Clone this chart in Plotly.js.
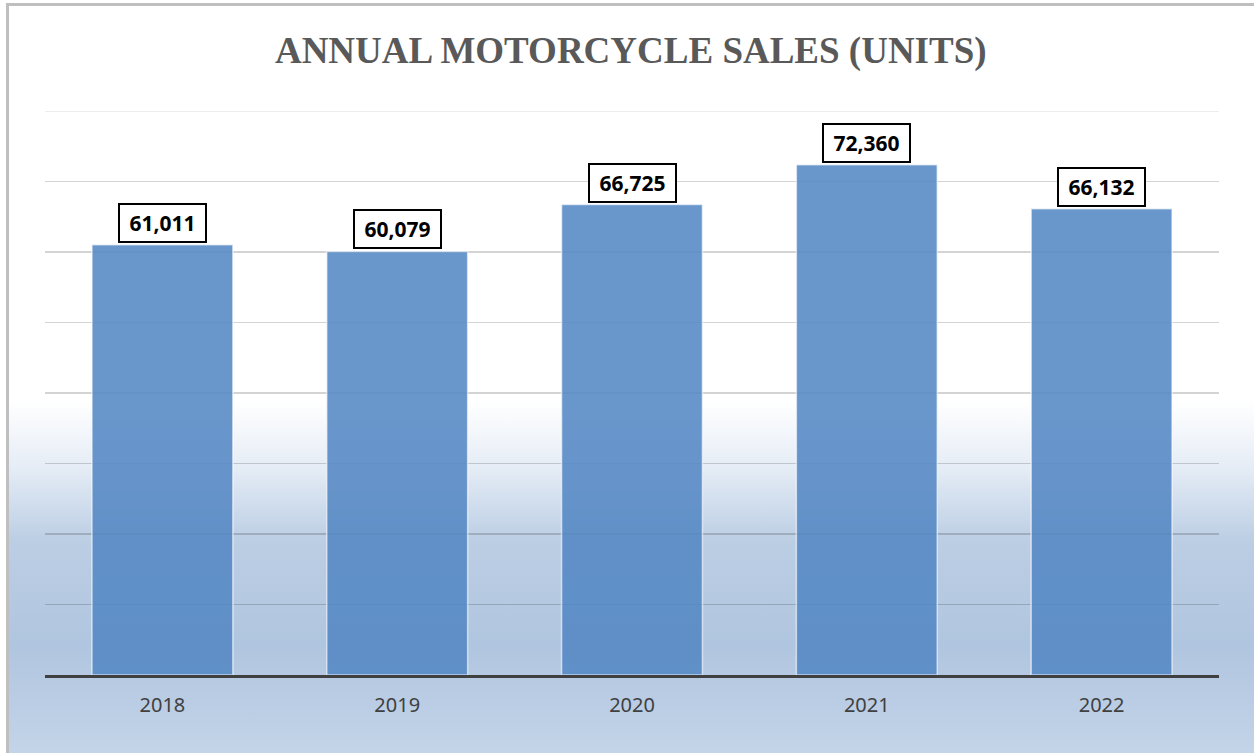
<!DOCTYPE html>
<html>
<head>
<meta charset="utf-8">
<script src="https://cdn.plot.ly/plotly-3.0.1.min.js"></script>
<style>
  html, body { margin: 0; padding: 0; width: 1254px; height: 753px; overflow: hidden; background: #fff; }
  #frame {
    position: absolute; left: 6px; top: 3px; width: 1300px; height: 800px;
    border-left: 3px solid #bfbfbf; border-top: 3px solid #bfbfbf;
    background: linear-gradient(to bottom, #ffffff 0px, #ffffff 395px, #e6edf6 460px, #bccee4 535px, #b0c5df 640px, #c6d6ea 760px);
  }
  #chart { position: absolute; left: 0; top: 0; width: 1254px; height: 753px; }
</style>
</head>
<body>
<div id="frame"></div>
<div id="chart"></div>
<script>
const years = ['2018', '2019', '2020', '2021', '2022'];
const sales = [61011, 60079, 66725, 72360, 66132];
const chartTitle = 'ANNUAL MOTORCYCLE SALES (UNITS)';

const trace = {
  type: 'bar',
  x: years,
  y: sales,
  marker: {
    color: 'rgba(84,135,196,0.88)',
    line: { color: 'rgba(255,255,255,0.6)', width: 1.5 }
  },
  hoverinfo: 'x+y'
};

const annotations = years.map((yr, i) => ({
  x: i, y: sales[i], xref: 'x', yref: 'y',
  text: '&nbsp;<b>' + sales[i].toLocaleString('en-US') + '</b>&nbsp;',
  showarrow: false, yanchor: 'bottom', xanchor: 'center', yshift: 2,
  font: { family: 'Noto Sans, Liberation Sans, sans-serif', size: 21, color: '#000' },
  bgcolor: '#ffffff', bordercolor: '#000000', borderwidth: 2, borderpad: 4
}));

const layout = {
  width: 1254, height: 753,
  margin: { l: 45, r: 35, t: 111, b: 78 },
  paper_bgcolor: 'rgba(0,0,0,0)',
  plot_bgcolor: 'rgba(0,0,0,0)',
  title: {
    text: '<b>' + chartTitle + '</b>',
    font: { family: 'Liberation Serif, Times New Roman, serif', size: 37, color: '#595959' },
    x: 0.503, xanchor: 'center', y: 0.933, yanchor: 'middle'
  },
  bargap: 0.4,
  showlegend: false,
  xaxis: {
    type: 'category',
    range: [-0.5, 4.5],
    showline: true, linecolor: '#404040', linewidth: 3,
    showgrid: false, ticks: 'outside', ticklen: 10, tickcolor: 'rgba(0,0,0,0)',
    tickfont: { family: 'Noto Sans, Liberation Sans, sans-serif', size: 20, color: '#404040' }
  },
  yaxis: {
    range: [0, 80000], dtick: 10000,
    showgrid: true, gridcolor: 'rgba(0,0,0,0.17)', gridwidth: 1.2,
    zeroline: false, showticklabels: false, ticks: ''
  },
  shapes: [{
    type: 'line', xref: 'paper', yref: 'y', x0: 0, x1: 1, y0: 80000, y1: 80000,
    line: { color: 'rgba(0,0,0,0.14)', width: 1.2 }, layer: 'below'
  }],
  annotations: annotations
};

Plotly.newPlot('chart', [trace], layout, { displayModeBar: false, staticPlot: true });
</script>
</body>
</html>
